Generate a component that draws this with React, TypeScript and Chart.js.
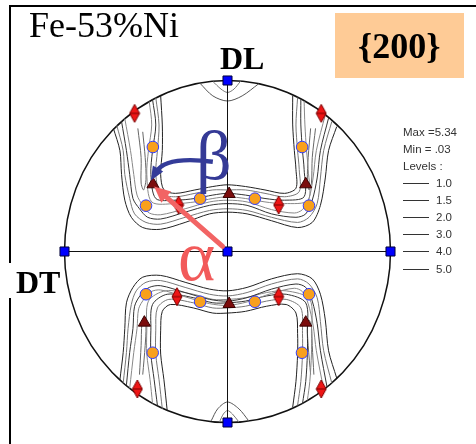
import React, { useEffect, useRef } from 'react';
import { Chart, registerables } from 'chart.js';
Chart.register(...registerables);

type P = { x: number; y: number };
const pts = (a: number[][]): P[] => a.map(([x, y]) => ({ x, y }));

// ---- pole figure markers (projection coordinates, unit circle) ----
const poleSquares = pts([[0, 1], [-1, 0], [1, 0], [0, 0], [0, -1]]);
const orangeCircles = pts([
  [-0.458, 0.611], [0.458, 0.611], [-0.5, 0.268], [0.5, 0.268], [-0.168, 0.309], [0.168, 0.309],
  [-0.5, -0.25], [0.5, -0.25], [-0.168, -0.294], [0.168, -0.294], [-0.459, -0.592], [0.457, -0.592],
]);
const redDiamonds = pts([
  [-0.57, 0.808], [0.575, 0.808], [-0.3, 0.272], [0.314, 0.272],
  [-0.31, -0.264], [0.314, -0.264], [-0.553, -0.804], [0.575, -0.804],
]);
const darkTriangles = pts([
  [-0.457, 0.393], [0.48, 0.393], [0.01, 0.336],
  [-0.51, -0.416], [0.48, -0.416], [0.01, -0.307],
]);

// ---- contour lines (upper band) ----
const upO1 = pts([[-0.70,0.72],[-0.66,0.59],[-0.65,0.45],[-0.63,0.30],[-0.59,0.20],[-0.52,0.14],[-0.41,0.13],[-0.26,0.17],[-0.11,0.22],[0,0.23],[0.12,0.22],[0.27,0.18],[0.43,0.14],[0.52,0.17],[0.57,0.27],[0.60,0.43],[0.62,0.59],[0.67,0.73]]);
const upO2 = pts([[-0.68,0.74],[-0.64,0.59],[-0.63,0.45],[-0.60,0.31],[-0.57,0.22],[-0.50,0.17],[-0.41,0.16],[-0.26,0.20],[-0.11,0.24],[0,0.25],[0.12,0.24],[0.27,0.20],[0.43,0.17],[0.50,0.20],[0.55,0.28],[0.57,0.43],[0.59,0.59],[0.64,0.76]]);
const upO3 = pts([[-0.65,0.76],[-0.62,0.59],[-0.60,0.45],[-0.58,0.31],[-0.54,0.25],[-0.49,0.20],[-0.41,0.19],[-0.26,0.23],[-0.11,0.27],[0,0.28],[0.12,0.27],[0.27,0.22],[0.42,0.20],[0.48,0.22],[0.52,0.30],[0.55,0.43],[0.57,0.59],[0.62,0.78]]);
const upO4 = pts([[-0.63,0.777],[-0.595,0.59],[-0.575,0.45],[-0.555,0.33],[-0.52,0.27],[-0.48,0.225],[-0.41,0.215],[-0.26,0.25],[-0.11,0.29],[0,0.30],[0.12,0.29],[0.27,0.245],[0.41,0.225],[0.46,0.245],[0.50,0.31],[0.525,0.43],[0.545,0.59],[0.60,0.80]]);
const upI1 = pts([[-0.41,0.91],[-0.40,0.74],[-0.40,0.59],[-0.41,0.45],[-0.39,0.36],[-0.32,0.34],[-0.20,0.36],[-0.09,0.38],[0,0.39],[0.11,0.38],[0.23,0.36],[0.35,0.34],[0.42,0.37],[0.42,0.48],[0.41,0.59],[0.40,0.74],[0.40,0.91]]);
const upI2 = pts([[-0.44,0.90],[-0.42,0.74],[-0.43,0.59],[-0.44,0.45],[-0.41,0.34],[-0.32,0.32],[-0.20,0.34],[-0.09,0.36],[0,0.36],[0.11,0.36],[0.23,0.34],[0.35,0.32],[0.44,0.35],[0.44,0.48],[0.43,0.59],[0.42,0.74],[0.43,0.90]]);
const upI3 = pts([[-0.46,0.89],[-0.44,0.74],[-0.46,0.59],[-0.47,0.45],[-0.44,0.31],[-0.32,0.30],[-0.20,0.31],[-0.09,0.33],[0,0.34],[0.11,0.33],[0.23,0.31],[0.35,0.30],[0.47,0.32],[0.47,0.48],[0.46,0.59],[0.45,0.74],[0.45,0.89]]);
const upI4 = pts([[-0.48,0.877],[-0.465,0.74],[-0.485,0.59],[-0.495,0.45],[-0.465,0.29],[-0.32,0.28],[-0.20,0.29],[-0.09,0.31],[0,0.32],[0.11,0.31],[0.23,0.29],[0.35,0.28],[0.495,0.30],[0.495,0.48],[0.485,0.59],[0.475,0.74],[0.47,0.88]]);
const upIslandL = pts([[-0.55,0.72],[-0.53,0.55],[-0.53,0.40],[-0.515,0.36],[-0.50,0.42],[-0.505,0.55],[-0.52,0.70]]);
const upIslandR = pts([[0.54,0.72],[0.52,0.55],[0.515,0.40],[0.50,0.36],[0.49,0.42],[0.495,0.55],[0.51,0.72]]);

// ---- contour lines (lower band) ----
const loO1 = pts([[-0.66,-0.75],[-0.64,-0.59],[-0.63,-0.45],[-0.62,-0.30],[-0.58,-0.21],[-0.52,-0.15],[-0.41,-0.14],[-0.26,-0.18],[-0.11,-0.22],[0,-0.23],[0.12,-0.21],[0.27,-0.16],[0.43,-0.13],[0.52,-0.16],[0.57,-0.25],[0.60,-0.40],[0.62,-0.58],[0.67,-0.74]]);
const loO2 = pts([[-0.64,-0.77],[-0.62,-0.59],[-0.61,-0.45],[-0.59,-0.31],[-0.56,-0.23],[-0.50,-0.18],[-0.41,-0.17],[-0.26,-0.21],[-0.11,-0.25],[0,-0.26],[0.12,-0.24],[0.27,-0.19],[0.43,-0.16],[0.50,-0.19],[0.55,-0.27],[0.57,-0.41],[0.59,-0.58],[0.64,-0.77]]);
const loO3 = pts([[-0.62,-0.78],[-0.60,-0.59],[-0.58,-0.45],[-0.57,-0.32],[-0.53,-0.25],[-0.48,-0.21],[-0.41,-0.20],[-0.26,-0.24],[-0.11,-0.28],[0,-0.29],[0.12,-0.27],[0.27,-0.22],[0.42,-0.19],[0.48,-0.21],[0.52,-0.29],[0.55,-0.42],[0.57,-0.58],[0.61,-0.79]]);
const loO4 = pts([[-0.60,-0.80],[-0.575,-0.59],[-0.555,-0.45],[-0.545,-0.335],[-0.51,-0.275],[-0.47,-0.235],[-0.41,-0.225],[-0.26,-0.265],[-0.11,-0.305],[0,-0.315],[0.12,-0.295],[0.27,-0.245],[0.41,-0.215],[0.46,-0.235],[0.495,-0.305],[0.525,-0.43],[0.545,-0.58],[0.59,-0.807]]);
const loI1 = pts([[-0.37,-0.93],[-0.39,-0.75],[-0.41,-0.60],[-0.41,-0.46],[-0.40,-0.35],[-0.35,-0.31],[-0.21,-0.33],[-0.09,-0.36],[0,-0.36],[0.11,-0.35],[0.24,-0.32],[0.36,-0.31],[0.42,-0.36],[0.43,-0.48],[0.43,-0.60],[0.42,-0.76],[0.40,-0.91]]);
const loI2 = pts([[-0.40,-0.92],[-0.42,-0.75],[-0.44,-0.60],[-0.44,-0.46],[-0.43,-0.33],[-0.36,-0.28],[-0.21,-0.30],[-0.09,-0.33],[0,-0.33],[0.11,-0.32],[0.24,-0.29],[0.36,-0.28],[0.45,-0.33],[0.46,-0.48],[0.46,-0.60],[0.45,-0.76],[0.43,-0.90]]);
const loI3 = pts([[-0.43,-0.90],[-0.45,-0.75],[-0.47,-0.60],[-0.47,-0.46],[-0.46,-0.31],[-0.37,-0.25],[-0.21,-0.27],[-0.09,-0.30],[0,-0.30],[0.11,-0.29],[0.24,-0.26],[0.36,-0.25],[0.48,-0.30],[0.49,-0.48],[0.49,-0.60],[0.48,-0.76],[0.46,-0.89]]);
const loI4 = pts([[-0.46,-0.888],[-0.475,-0.75],[-0.495,-0.60],[-0.495,-0.46],[-0.485,-0.29],[-0.38,-0.23],[-0.21,-0.25],[-0.09,-0.28],[0,-0.28],[0.11,-0.27],[0.24,-0.24],[0.36,-0.23],[0.505,-0.28],[0.515,-0.48],[0.515,-0.60],[0.505,-0.76],[0.49,-0.87]]);
const loIslandL = pts([[-0.54,-0.72],[-0.53,-0.55],[-0.525,-0.42],[-0.51,-0.38],[-0.50,-0.44],[-0.505,-0.55],[-0.52,-0.72]]);
const loIslandR = pts([[0.53,-0.72],[0.52,-0.55],[0.515,-0.44],[0.50,-0.40],[0.49,-0.44],[0.495,-0.55],[0.51,-0.72]]);

// ---- small contours around the DL poles ----
const topArcA = pts([[-0.17,0.985],[-0.09,0.91],[0,0.88],[0.09,0.91],[0.19,0.98]]);
const topArcB = pts([[-0.09,0.995],[-0.04,0.95],[0,0.93],[0.04,0.95],[0.08,0.996]]);
const botArcA = pts([[-0.10,-0.99],[-0.06,-0.92],[0,-0.88],[0.07,-0.92],[0.13,-0.99]]);
const botArcB = pts([[-0.05,-0.998],[-0.025,-0.95],[0,-0.93],[0.03,-0.95],[0.07,-0.997]]);

// ---- reference axes ----
const axisH = pts([[-1, 0], [1, 0]]);
const axisV = pts([[0, -1], [0, 1]]);

// ---- rotation arrows ----
const alphaArrow = pts([[-0.03, 0.03], [-0.45, 0.38]]);
const betaArrow = pts([[-0.09, 0.525], [-0.38, 0.56], [-0.47, 0.415]]);

const legendHeader = ['Max =5.34', 'Min = .03', 'Levels :'];
const legendLevels = ['1.0', '1.5', '2.0', '3.0', '4.0', '5.0'];

function makeDiamond(): HTMLCanvasElement {
  const c = document.createElement('canvas');
  c.width = 12; c.height = 20;
  const g = c.getContext('2d')!;
  g.beginPath();
  g.moveTo(6, 1); g.lineTo(11, 10); g.lineTo(6, 19); g.lineTo(1, 10); g.closePath();
  g.fillStyle = '#EE1515'; g.fill();
  g.strokeStyle = '#7a0000'; g.lineWidth = 1; g.stroke();
  g.beginPath(); g.moveTo(1, 10); g.lineTo(11, 10); g.stroke();
  return c;
}

const overlayPlugin = {
  id: 'poleOverlay',
  beforeDatasetsDraw(chart: any) {
    const { ctx, scales } = chart;
    const sx = scales.x, sy = scales.y;
    const cx = sx.getPixelForValue(0), cy = sy.getPixelForValue(0);
    const rx = sx.getPixelForValue(1) - cx, ry = cy - sy.getPixelForValue(1);
    ctx.save();
    ctx.beginPath();
    ctx.ellipse(cx, cy, rx, ry, 0, 0, Math.PI * 2);
    ctx.lineWidth = 1.5;
    ctx.strokeStyle = '#111';
    ctx.stroke();
    ctx.restore();
  },
  afterDatasetsDraw(chart: any) {
    const { ctx, scales } = chart;
    const sx = scales.x, sy = scales.y;
    const px = (p: P) => ({ x: sx.getPixelForValue(p.x), y: sy.getPixelForValue(p.y) });
    const head = (tip: { x: number; y: number }, dx: number, dy: number, len: number, hw: number, color: string) => {
      const l = Math.hypot(dx, dy); const ux = dx / l, uy = dy / l;
      const bx = tip.x - ux * len, by = tip.y - uy * len;
      ctx.beginPath();
      ctx.moveTo(tip.x, tip.y);
      ctx.lineTo(bx - uy * hw, by + ux * hw);
      ctx.lineTo(bx + uy * hw, by - ux * hw);
      ctx.closePath();
      ctx.fillStyle = color; ctx.fill();
      return { bx: tip.x - ux * len * 0.7, by: tip.y - uy * len * 0.7 };
    };
    ctx.save();
    const a0 = px(alphaArrow[0]), a1 = px(alphaArrow[1]);
    const ac = '#F26464';
    const ab = head(a1, a1.x - a0.x, a1.y - a0.y, 16, 7.5, ac);
    ctx.beginPath(); ctx.moveTo(a0.x, a0.y); ctx.lineTo(ab.bx, ab.by);
    ctx.strokeStyle = ac; ctx.lineWidth = 5; ctx.lineCap = 'round'; ctx.stroke();
    const b0 = px(betaArrow[0]), b1 = px(betaArrow[1]), b2 = px(betaArrow[2]);
    const bc = '#343C99';
    const bb = head(b2, b2.x - b1.x, b2.y - b1.y, 14, 6, bc);
    ctx.beginPath(); ctx.moveTo(b0.x, b0.y); ctx.quadraticCurveTo(b1.x, b1.y, bb.bx, bb.by);
    ctx.strokeStyle = bc; ctx.lineWidth = 4.5; ctx.lineCap = 'butt'; ctx.stroke();
    ctx.restore();
  },
};

export default function App() {
  const ref = useRef<HTMLCanvasElement>(null);
  useEffect(() => {
    if (!ref.current) return;
    const diamond = makeDiamond();
    const line = (data: P[], color: string, w = 1, order = 10, tension = 0.3) => ({
      type: 'scatter' as const, data, showLine: true, borderColor: color, borderWidth: w,
      pointRadius: 0, tension, fill: false, order, clip: false as any,
    });
    const contourSets = [
      [upO1, '#222'], [upO2, '#777'], [upO3, '#333'], [upO4, '#888'],
      [upI1, '#222'], [upI2, '#777'], [upI3, '#333'], [upI4, '#888'],
      [loO1, '#222'], [loO2, '#777'], [loO3, '#333'], [loO4, '#888'],
      [loI1, '#222'], [loI2, '#777'], [loI3, '#333'], [loI4, '#888'],
      [upIslandL, '#666'], [upIslandR, '#666'], [loIslandL, '#666'], [loIslandR, '#666'],
      [topArcA, '#555'], [topArcB, '#777'], [botArcA, '#555'], [botArcB, '#777'],
    ].map(([d, c]) => line(d as P[], c as string));
    const chart = new Chart(ref.current, {
      type: 'scatter',
      data: {
        datasets: [
          { data: poleSquares, pointStyle: 'rect', pointRadius: 6.4, backgroundColor: '#0000FF', borderColor: '#00003a', borderWidth: 1, order: 0, clip: false as any },
          { data: orangeCircles, pointStyle: 'circle', pointRadius: 5.8, backgroundColor: '#F8A01C', borderColor: '#2f3cff', borderWidth: 1, order: 1, clip: false as any },
          { data: redDiamonds, pointStyle: diamond as any, pointRadius: 9, order: 1, clip: false as any },
          { data: darkTriangles, pointStyle: 'triangle', pointRadius: 7, backgroundColor: '#7B0C0C', borderColor: '#3a0000', borderWidth: 1, order: 1, clip: false as any },
          line(axisH, '#111', 1, 5, 0),
          line(axisV, '#111', 1, 5, 0),
          ...contourSets,
        ] as any,
      },
      options: {
        animation: false,
        responsive: false,
        events: [],
        layout: { padding: { left: 64.5, right: 85.5, top: 80.5, bottom: 21.5 } },
        scales: {
          x: { type: 'linear', min: -1, max: 1, display: false },
          y: { type: 'linear', min: -1, max: 1, display: false },
        },
        plugins: { legend: { display: false }, tooltip: { enabled: false }, title: { display: false } },
      },
      plugins: [overlayPlugin],
    });
    return () => chart.destroy();
  }, []);

  const serif = '"Liberation Serif", "Times New Roman", serif';
  const sans = '"Liberation Sans", Arial, sans-serif';
  const abs = (s: React.CSSProperties): React.CSSProperties => ({ position: 'absolute', whiteSpace: 'nowrap', lineHeight: 1, ...s });

  return (
    <div style={{ position: 'fixed', left: 0, top: 0, width: 476, height: 444, background: '#fff', overflow: 'hidden' }}>
      <canvas ref={ref} width={476} height={444} style={{ position: 'absolute', left: 0, top: 0, width: 476, height: 444 }} />
      <div style={{ position: 'absolute', left: 9, top: 5, width: 467, height: 2, background: '#000' }} />
      <div style={{ position: 'absolute', left: 9, top: 5, width: 2, height: 258, background: '#000' }} />
      <div style={{ position: 'absolute', left: 9, top: 298, width: 2, height: 146, background: '#000' }} />
      <div style={abs({ left: 29, top: 7, fontFamily: serif, fontSize: 36, color: '#000' })}>Fe-53%Ni</div>
      <div style={{ position: 'absolute', left: 335, top: 13, width: 129, height: 65, background: '#FECB96' }} />
      <div style={abs({ left: 358, top: 28, fontFamily: serif, fontSize: 36, fontWeight: 'bold', color: '#000' })}>{'{200}'}</div>
      <div style={abs({ left: 220, top: 42, fontFamily: serif, fontSize: 32, fontWeight: 'bold', color: '#000' })}>DL</div>
      <div style={abs({ left: 16, top: 266, fontFamily: serif, fontSize: 32, fontWeight: 'bold', color: '#000' })}>DT</div>
      <div style={abs({ left: 196, top: 121, fontFamily: serif, fontSize: 70, color: '#353A96' })}>β</div>
      <div style={abs({ left: 178, top: 221, fontFamily: serif, fontSize: 71, color: '#F25A5A' })}>α</div>
      {legendHeader.map((t, i) => (
        <div key={t} style={abs({ left: 403, top: 127 + i * 17, fontFamily: sans, fontSize: 11.5, color: '#333' })}>{t}</div>
      ))}
      {legendLevels.map((t, i) => (
        <React.Fragment key={t}>
          <div style={{ position: 'absolute', left: 403, top: 183 + i * 17.1, width: 26, height: 1, background: '#333' }} />
          <div style={abs({ left: 436, top: 178 + i * 17.1, fontFamily: sans, fontSize: 11.5, color: '#333' })}>{t}</div>
        </React.Fragment>
      ))}
    </div>
  );
}
